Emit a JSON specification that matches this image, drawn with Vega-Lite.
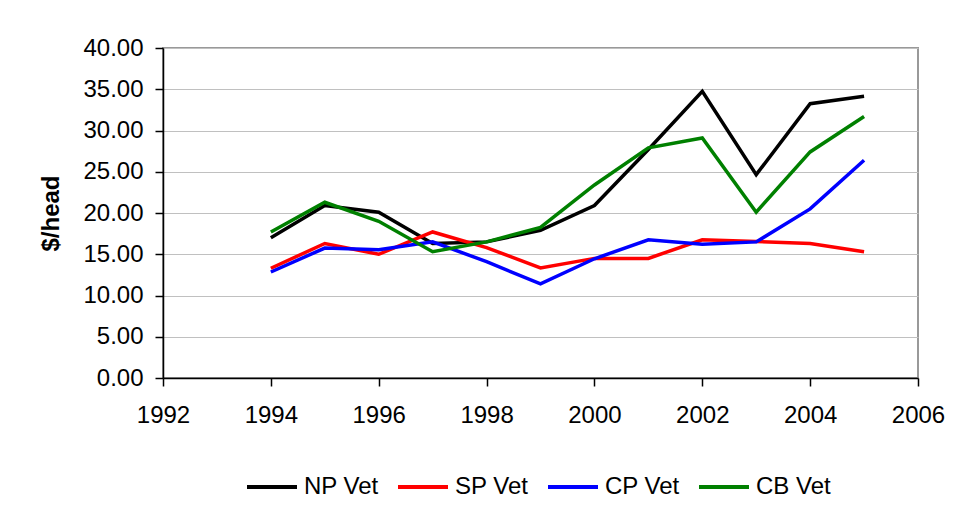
{
  "$schema": "https://vega.github.io/schema/vega-lite/v6.json",
  "width": 755,
  "height": 330,
  "autosize": {"type": "none"},
  "padding": {"left": 163, "top": 48, "right": 38, "bottom": 130},
  "background": "white",
  "config": {
    "font": "Liberation Sans",
    "view": {"stroke": "#999999", "strokeWidth": 2}
  },
  "data": {
    "values": [
      {"year": 1994, "series": "NP Vet", "value": 17.0},
      {"year": 1995, "series": "NP Vet", "value": 20.9},
      {"year": 1996, "series": "NP Vet", "value": 20.1},
      {"year": 1997, "series": "NP Vet", "value": 16.3},
      {"year": 1998, "series": "NP Vet", "value": 16.5},
      {"year": 1999, "series": "NP Vet", "value": 17.9},
      {"year": 2000, "series": "NP Vet", "value": 20.9},
      {"year": 2001, "series": "NP Vet", "value": 27.7},
      {"year": 2002, "series": "NP Vet", "value": 34.75},
      {"year": 2003, "series": "NP Vet", "value": 24.65},
      {"year": 2004, "series": "NP Vet", "value": 33.25},
      {"year": 2005, "series": "NP Vet", "value": 34.15},
      {"year": 1994, "series": "SP Vet", "value": 13.3},
      {"year": 1995, "series": "SP Vet", "value": 16.3},
      {"year": 1996, "series": "SP Vet", "value": 15.0},
      {"year": 1997, "series": "SP Vet", "value": 17.7},
      {"year": 1998, "series": "SP Vet", "value": 15.8},
      {"year": 1999, "series": "SP Vet", "value": 13.35},
      {"year": 2000, "series": "SP Vet", "value": 14.5},
      {"year": 2001, "series": "SP Vet", "value": 14.5},
      {"year": 2002, "series": "SP Vet", "value": 16.75},
      {"year": 2003, "series": "SP Vet", "value": 16.55},
      {"year": 2004, "series": "SP Vet", "value": 16.3},
      {"year": 2005, "series": "SP Vet", "value": 15.3},
      {"year": 1994, "series": "CP Vet", "value": 12.85},
      {"year": 1995, "series": "CP Vet", "value": 15.75},
      {"year": 1996, "series": "CP Vet", "value": 15.55},
      {"year": 1997, "series": "CP Vet", "value": 16.5},
      {"year": 1998, "series": "CP Vet", "value": 14.1},
      {"year": 1999, "series": "CP Vet", "value": 11.4},
      {"year": 2000, "series": "CP Vet", "value": 14.45},
      {"year": 2001, "series": "CP Vet", "value": 16.75},
      {"year": 2002, "series": "CP Vet", "value": 16.2},
      {"year": 2003, "series": "CP Vet", "value": 16.5},
      {"year": 2004, "series": "CP Vet", "value": 20.5},
      {"year": 2005, "series": "CP Vet", "value": 26.4},
      {"year": 1994, "series": "CB Vet", "value": 17.7},
      {"year": 1995, "series": "CB Vet", "value": 21.3},
      {"year": 1996, "series": "CB Vet", "value": 19.0},
      {"year": 1997, "series": "CB Vet", "value": 15.3},
      {"year": 1998, "series": "CB Vet", "value": 16.5},
      {"year": 1999, "series": "CB Vet", "value": 18.25},
      {"year": 2000, "series": "CB Vet", "value": 23.4},
      {"year": 2001, "series": "CB Vet", "value": 27.9},
      {"year": 2002, "series": "CB Vet", "value": 29.1},
      {"year": 2003, "series": "CB Vet", "value": 20.1},
      {"year": 2004, "series": "CB Vet", "value": 27.4},
      {"year": 2005, "series": "CB Vet", "value": 31.7}
    ]
  },
  "mark": {"type": "line", "strokeWidth": 3.5},
  "encoding": {
    "x": {
      "field": "year",
      "type": "quantitative",
      "scale": {"domain": [1992, 2006], "nice": false, "zero": false},
      "axis": {
        "title": null,
        "values": [1992, 1994, 1996, 1998, 2000, 2002, 2004, 2006],
        "format": "d",
        "grid": false,
        "domainColor": "black",
        "domainWidth": 1.5,
        "tickColor": "black",
        "tickWidth": 1.5,
        "tickSize": 8,
        "labelPadding": 17,
        "labelFontSize": 24,
        "labelColor": "black",
        "labelFlush": false
      }
    },
    "y": {
      "field": "value",
      "type": "quantitative",
      "scale": {"domain": [0, 40], "nice": false},
      "axis": {
        "title": "$/head",
        "titleFontSize": 24,
        "titleFontWeight": "bold",
        "titleColor": "black",
        "titleX": -100,
        "values": [0, 5, 10, 15, 20, 25, 30, 35, 40],
        "format": ".2f",
        "grid": true,
        "gridColor": "#c0c0c0",
        "gridWidth": 1.2,
        "domainColor": "black",
        "domainWidth": 1.5,
        "tickColor": "black",
        "tickWidth": 1.5,
        "tickSize": 8,
        "labelPadding": 12,
        "labelFontSize": 24,
        "labelColor": "black"
      }
    },
    "color": {
      "field": "series",
      "type": "nominal",
      "sort": ["NP Vet", "SP Vet", "CP Vet", "CB Vet"],
      "scale": {
        "domain": ["NP Vet", "SP Vet", "CP Vet", "CB Vet"],
        "range": ["#000000", "#ff0000", "#0000ff", "#008000"]
      },
      "legend": {
        "title": null,
        "orient": "none",
        "direction": "horizontal",
        "legendX": 82,
        "legendY": 412,
        "padding": 0,
        "symbolType": "stroke",
        "symbolSize": 2500,
        "symbolStrokeWidth": 4,
        "labelFontSize": 24,
        "labelColor": "black",
        "labelOffset": 5,
        "columnPadding": 11,
        "labelLimit": 200
      }
    }
  }
}
